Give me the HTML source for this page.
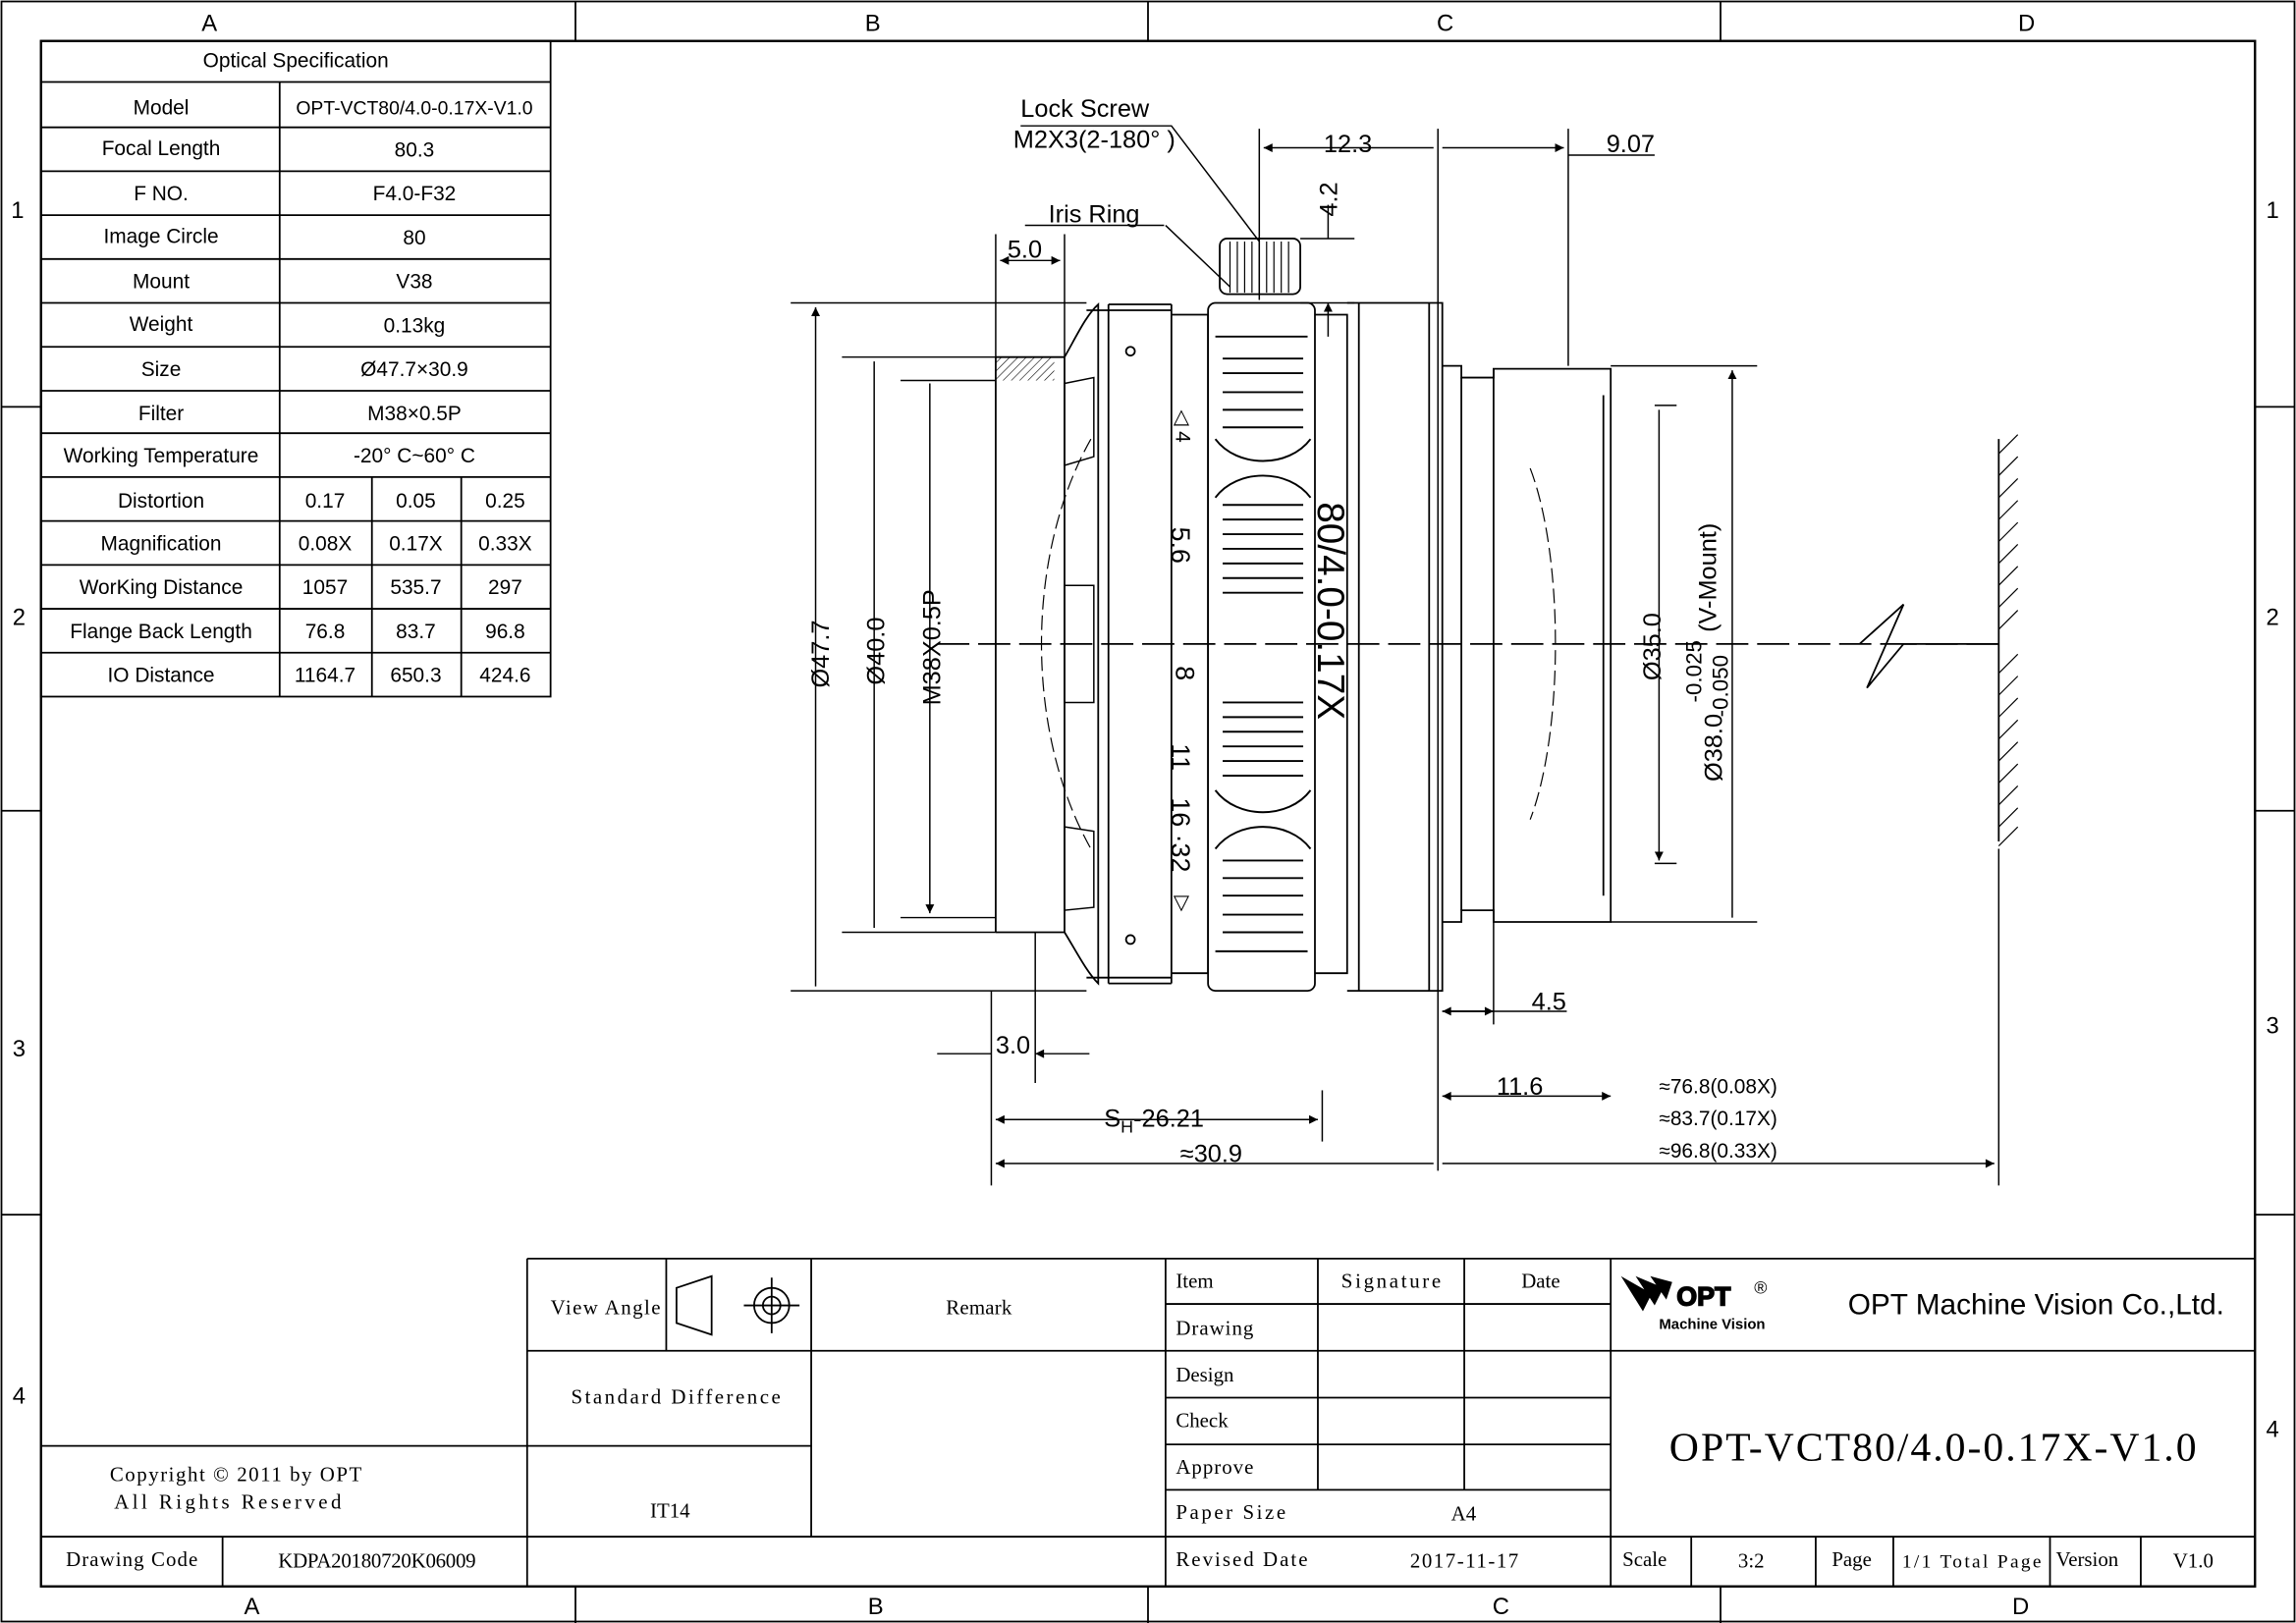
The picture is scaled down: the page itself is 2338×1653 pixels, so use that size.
<!DOCTYPE html>
<html><head><meta charset="utf-8"><style>
html,body{margin:0;padding:0;background:#fff}
svg{display:block}
.s{font-family:"Liberation Sans",sans-serif;fill:#000}
.m{font-family:"Liberation Serif",serif;fill:#000}
</style></head><body>
<svg width="2338" height="1653" viewBox="0 0 1568 1109" preserveAspectRatio="none" xmlns="http://www.w3.org/2000/svg">
<defs>
<marker id="a" viewBox="0 0 10 10" refX="10" refY="5" markerWidth="10" markerHeight="6" orient="auto-start-reverse" markerUnits="userSpaceOnUse"><path d="M0,0 L10,5 L0,10 z" fill="#000"/></marker>
<pattern id="h" width="4" height="4" patternUnits="userSpaceOnUse" patternTransform="rotate(45)"><line x1="0" y1="0" x2="0" y2="4" stroke="#000" stroke-width="0.8"/></pattern>
</defs>
<rect width="1568" height="1109" fill="#fff"/>
<g fill="none" stroke="#000" stroke-width="1.2">
<rect x="1" y="1" width="1566" height="1107"/>
<rect x="28" y="28" width="1512" height="1056" stroke-width="1.6"/>
<path d="M393,1V28M784,1V28M1175,1V28M393,1084V1109M784,1084V1109M1175,1084V1109M1,278H28M1,554H28M1,830H28M1540,278H1567M1540,554H1567M1540,830H1567"/>
</g>
<g class="s" font-size="16" text-anchor="middle">
<text x="143" y="21">A</text><text x="596" y="21">B</text><text x="987" y="21">C</text><text x="1384" y="21">D</text>
<text x="172" y="1103">A</text><text x="598" y="1103">B</text><text x="1025" y="1103">C</text><text x="1380" y="1103">D</text>
<text x="12" y="149">1</text><text x="13" y="427">2</text><text x="13" y="722">3</text><text x="13" y="959">4</text>
<text x="1552" y="149">1</text><text x="1552" y="427">2</text><text x="1552" y="706">3</text><text x="1552" y="982">4</text>
</g>
<!-- spec table -->
<g fill="none" stroke="#000" stroke-width="1.2">
<rect x="28" y="28" width="348" height="448"/>
<path d="M28,56H376M28,87H376M28,117H376M28,147H376M28,177H376M28,207H376M28,237H376M28,267H376M28,296H376M28,326H376M28,356H376M28,386H376M28,416H376M28,446H376"/>
<path d="M191,56V476M254,326V476M315,326V476"/>
</g>
<g class="s" font-size="14" text-anchor="middle">
<text x="202" y="46">Optical Specification</text>
<text x="110" y="78">Model</text><text x="283" y="78" font-size="13">OPT-VCT80/4.0-0.17X-V1.0</text>
<text x="110" y="106">Focal Length</text><text x="283" y="107">80.3</text>
<text x="110" y="137">F NO.</text><text x="283" y="137">F4.0-F32</text>
<text x="110" y="166">Image Circle</text><text x="283" y="167">80</text>
<text x="110" y="197">Mount</text><text x="283" y="197">V38</text>
<text x="110" y="226">Weight</text><text x="283" y="227">0.13kg</text>
<text x="110" y="257">Size</text><text x="283" y="257">Ø47.7×30.9</text>
<text x="110" y="287">Filter</text><text x="283" y="287">M38×0.5P</text>
<text x="110" y="316">Working Temperature</text><text x="283" y="316">-20° C~60° C</text>
<text x="110" y="347">Distortion</text><text x="222" y="347">0.17</text><text x="284" y="347">0.05</text><text x="345" y="347">0.25</text>
<text x="110" y="376">Magnification</text><text x="222" y="376">0.08X</text><text x="284" y="376">0.17X</text><text x="345" y="376">0.33X</text>
<text x="110" y="406">WorKing Distance</text><text x="222" y="406">1057</text><text x="284" y="406">535.7</text><text x="345" y="406">297</text>
<text x="110" y="436">Flange Back Length</text><text x="222" y="436">76.8</text><text x="284" y="436">83.7</text><text x="345" y="436">96.8</text>
<text x="110" y="466">IO Distance</text><text x="222" y="466">1164.7</text><text x="284" y="466">650.3</text><text x="345" y="466">424.6</text>
</g>
<!-- title block -->
<g fill="none" stroke="#000" stroke-width="1.2">
<path d="M360,860H1540M360,860V1084M28,988H554M28,1050H1540M152,1050V1084M455,860V923M554,860V1050M360,923H796M796,860V1084M900,860V1018M1000,860V1018M1100,860V1084M796,891H1100M796,923H1540M796,955H1100M796,987H1100M796,1018H1100M1155,1050V1084M1240,1050V1084M1293,1050V1084M1400,1050V1084M1462,1050V1084"/>
<path d="M462,880L486,872V912L462,904z"/>
<circle cx="527" cy="892" r="12"/><circle cx="527" cy="892" r="6"/><path d="M508,892H546M527,873V911"/>
</g>
<g class="m" font-size="14">
<text x="376" y="898" textLength="75">View Angle</text><text x="646" y="898" textLength="45">Remark</text>
<text x="390" y="959" textLength="143">Standard Difference</text><text x="444" y="1037">IT14</text>
<text x="75" y="1012" textLength="172">Copyright © 2011 by OPT</text><text x="78" y="1031" textLength="155">All Rights Reserved</text>
<text x="45" y="1070" textLength="90">Drawing Code</text><text x="190" y="1071" textLength="135">KDPA20180720K06009</text>
<text x="803" y="880">Item</text><text x="916" y="880" textLength="68">Signature</text><text x="1039" y="880">Date</text>
<text x="803" y="912" textLength="53">Drawing</text><text x="803" y="944">Design</text><text x="803" y="975">Check</text><text x="803" y="1007" textLength="53">Approve</text>
<text x="803" y="1038" textLength="75">Paper Size</text><text x="991" y="1039">A4</text>
<text x="803" y="1070" textLength="90">Revised Date</text><text x="963" y="1071" textLength="74">2017-11-17</text>
<text x="1108" y="1070">Scale</text><text x="1187" y="1071">3:2</text><text x="1251" y="1070">Page</text><text x="1299" y="1071" font-size="13" textLength="95">1/1 Total Page</text><text x="1404" y="1070">Version</text><text x="1484" y="1071">V1.0</text>
<text x="1140" y="998" font-size="28" textLength="360">OPT-VCT80/4.0-0.17X-V1.0</text>
</g>
<g>
<path d="M1107,872L1122,896L1128,884z M1117,872L1130,892L1136,880z M1127,872L1138,888L1142,876z" fill="#000"/>
<text x="1145" y="892" class="s" font-size="18" font-weight="bold" fill="#fff" stroke="#000" stroke-width="1">OPT</text>
<text x="1198" y="884" class="s" font-size="12">®</text>
<text x="1133" y="908" class="s" font-size="10" font-weight="bold">Machine Vision</text>
<text x="1262" y="898" class="s" font-size="20">OPT Machine Vision Co.,Ltd.</text>
</g>
<!-- lens -->
<g fill="none" stroke="#000" stroke-width="1.2">
<path d="M640,440H1290M1365,440H1290" stroke-dasharray="22,6"/>
<path d="M1270,440L1300,413L1275,470L1300,440H1365"/>
<path d="M680,244V637M727,244V637M680,244H727M680,637H727"/>
<rect x="680" y="244" width="40" height="16" fill="url(#h)" stroke="none"/>
<path d="M727,244C735,230 742,215 750,208V672C742,664 735,650 727,637"/>
<path d="M742,212H800V668H742M757,208V672M800,208V672M757,208H800M757,672H800"/>
<path d="M727,262L747,258V312L727,318zM727,400H747V480H727zM727,565L747,568V620L727,622z" stroke-width="1"/>
<path d="M745,300C700,380 700,500 745,580" stroke-dasharray="10,4" stroke-width="0.8"/>
<circle cx="772" cy="240" r="3"/><circle cx="772" cy="642" r="3"/>
<path d="M800,215H825V665H800"/>
<rect x="825" y="207" width="73" height="470" rx="5"/>
<path d="M898,215H920V665H898M920,207H985V677H920M928,207V677M976,207V677"/>
<rect x="833" y="163" width="55" height="38" rx="5"/>
<path d="M840,165V200M845,165V200M850,165V200M855,165V200M860,165V200M865,165V200M870,165V200M875,165V200M880,165V200" stroke-width="0.8"/>
<path d="M985,250H998V258H1020V252H1100V630H1020V622H998V630H985" />
<path d="M998,258V622M1020,252V630M1095,270V612"/>
<path d="M1045,320C1068,380 1068,500 1045,560" stroke-dasharray="10,4" stroke-width="0.8"/>
<path d="M1365,300V575"/>
<path d="M1365,310L1378,297M1365,325L1378,312M1365,340L1378,327M1365,355L1378,342M1365,370L1378,357M1365,385L1378,372M1365,400L1378,387M1365,415L1378,402M1365,430L1378,417M1365,460L1378,447M1365,475L1378,462M1365,490L1378,477M1365,505L1378,492M1365,520L1378,507M1365,535L1378,522M1365,550L1378,537M1365,565L1378,552M1365,578L1378,565" stroke-width="0.8"/>
</g>
<g stroke="#000" stroke-width="1.3" fill="none">
<path d="M830,230H893M830,650H893"/>
<path d="M835,245H890M835,255H890M835,268H890M835,280H890M835,292H890M835,345H890M835,355H890M835,365H890M835,375H890M835,385H890M835,395H890M835,405H890M835,480H890M835,490H890M835,500H890M835,510H890M835,520H890M835,530H890M835,588H890M835,600H890M835,612H890M835,625H890M835,637H890"/>
<path d="M830,300C845,320 880,320 895,300M830,340C845,320 880,320 895,340M830,540C845,560 880,560 895,540M830,580C845,560 880,560 895,580"/>
</g>
<g class="s" font-size="14">
<text transform="translate(803,280) rotate(90)">◁ 4</text>
<text transform="translate(800,360) rotate(90)" font-size="18">5.6</text>
<text transform="translate(803,455) rotate(90)" font-size="18">8</text>
<text transform="translate(800,508) rotate(90)" font-size="18">11</text>
<text transform="translate(800,545) rotate(90)" font-size="18">16 ·32</text>
<text transform="translate(803,612) rotate(90)">▷</text>
<text transform="translate(900,343) rotate(90)" font-size="26">80/4.0-0.17X</text>
</g>
<!-- dimensions -->
<g fill="none" stroke="#000" stroke-width="1">
<path d="M540,207H742M575,244H680M615,260H680M575,637H680M615,627H680M540,677H742"/>
<path d="M557,210V674M597,247V634M635,262V624" marker-start="url(#a)" marker-end="url(#a)"/>
<path d="M680,160V244M727,160V244"/>
<path d="M683,178H724" marker-start="url(#a)" marker-end="url(#a)"/>
<path d="M860,88V205M982,88V800M1071,88V250"/>
<path d="M863,101H979M985,101H1068" marker-start="url(#a)" marker-end="url(#a)"/>
<path d="M1071,106H1130"/>
<path d="M888,163H925M888,207H925"/>
<path d="M907,140V163M907,230V207" marker-end="url(#a)"/>
<path d="M795,154H700M796,154L840,196" />
<path d="M697,86H800L860,165" />
<path d="M1020,630V700"/>
<path d="M985,691H1020M1020,691H1070" />
<path d="M1017,691H985" marker-end="url(#a)"/><path d="M988,691H1020" marker-end="url(#a)"/>
<path d="M1100,250H1200M1100,630H1200M1130,277H1145M1130,590H1145"/>
<path d="M1183,253V627M1133,280V588" marker-start="url(#a)" marker-end="url(#a)"/>
<path d="M677,677V810M707,637V740"/>
<path d="M640,720H677M744,720H707" marker-end="url(#a)"/>
<path d="M985,749H1100" marker-start="url(#a)" marker-end="url(#a)"/>
<path d="M903,745V780"/>
<path d="M680,765H900" marker-start="url(#a)" marker-end="url(#a)"/>
<path d="M680,795H979M985,795H1362" marker-start="url(#a)" marker-end="url(#a)"/>
<path d="M1365,580V810"/>
</g>
<g class="s" font-size="17">
<text transform="translate(566,470) rotate(-90)">Ø47.7</text>
<text transform="translate(604,468) rotate(-90)">Ø40.0</text>
<text transform="translate(642,482) rotate(-90)">M38X0.5P</text>
<text transform="translate(1134,465) rotate(-90)">Ø35.0</text>
<text transform="translate(1176,534) rotate(-90)">Ø38.0</text>
<text transform="translate(1162,480) rotate(-90)" font-size="15">-0.025</text>
<text transform="translate(1180,490) rotate(-90)" font-size="15">-0.050</text>
<text transform="translate(1172,432) rotate(-90)">(V-Mount)</text>
<text transform="translate(913,148) rotate(-90)">4.2</text>
<text x="697" y="80">Lock Screw</text>
<text x="692" y="101">M2X3(2-180° )</text>
<text x="716" y="152">Iris Ring</text>
<text x="688" y="176">5.0</text>
<text x="904" y="104">12.3</text>
<text x="1097" y="104">9.07</text>
<text x="1046" y="690">4.5</text>
<text x="680" y="720">3.0</text>
<text x="1022" y="748">11.6</text>
<text x="754" y="770">S<tspan font-size="12" dy="4">H</tspan><tspan dy="-4">-26.21</tspan></text>
<text x="806" y="794">≈30.9</text>
</g>
<g class="s" font-size="14">
<text x="1133" y="747">≈76.8(0.08X)</text>
<text x="1133" y="769">≈83.7(0.17X)</text>
<text x="1133" y="791">≈96.8(0.33X)</text>
</g>
</svg>
</body></html>
